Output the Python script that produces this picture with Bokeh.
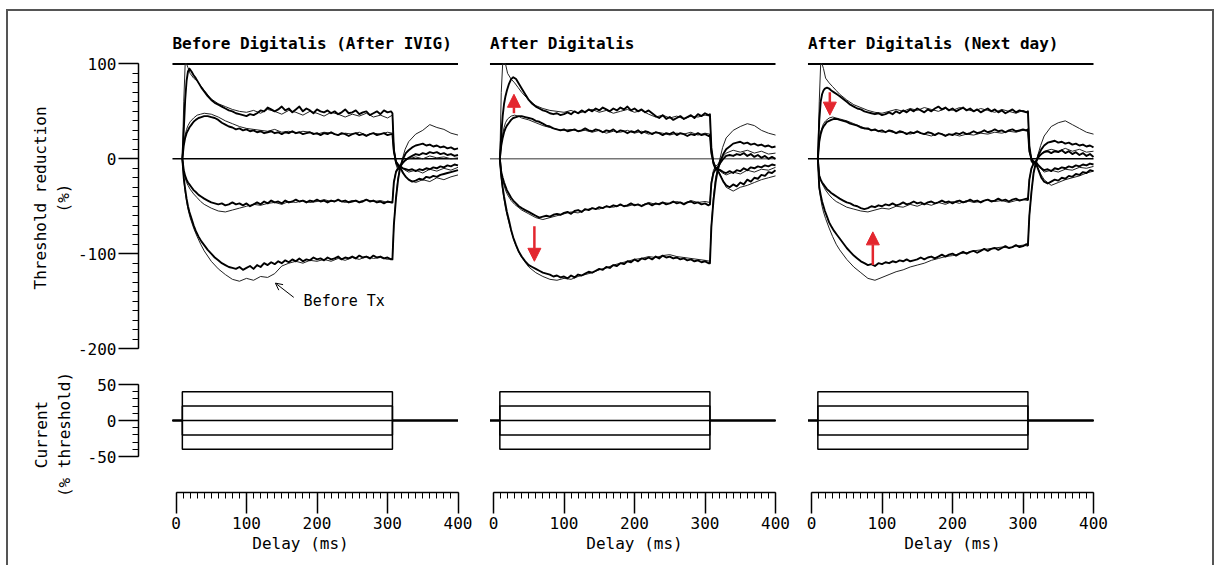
from bokeh.plotting import figure
from bokeh.layouts import column, row
from bokeh.models import Range1d, LinearAxis, FixedTicker, Label, Arrow, NormalHead, OpenHead
from bokeh.embed import file_html
from bokeh.resources import INLINE

# ---------------- texts ----------------
PANEL_TITLES = ["Before Digitalis (After IVIG)", "After Digitalis", "After Digitalis (Next day)"]
Y_TITLE_TOP = "Threshold reduction\n(%)"
Y_TITLE_BOTTOM = "Current\n(% threshold)"
X_TITLE = "Delay (ms)"
NOTE_TEXT = "Before Tx"

# ---------------- data ----------------
TIME = [9, 11, 13, 15, 17, 19, 22, 25, 28, 32, 36,
        40, 45, 50, 55, 60, 65, 70, 75, 80, 85,
        90, 95, 100, 105, 110, 115, 120, 125, 130, 135,
        140, 145, 150, 155, 160, 165, 170, 175, 180, 185,
        190, 195, 200, 205, 210, 215, 220, 225, 230, 235,
        240, 245, 250, 255, 260, 265, 270, 275, 280, 285,
        290, 295, 300, 305,
        307, 309, 312, 315, 318, 322, 326, 330, 335, 340, 345, 350, 355, 360, 365, 370, 375, 380, 385, 390, 395, 400]

TIME_THIN = [9, 11, 13, 15, 17, 20, 25, 30, 35, 40,
             50, 60, 70, 80, 90, 100, 110, 120, 130, 140,
             150, 160, 170, 180, 190, 200, 210, 220, 230, 240,
             250, 260, 270, 280, 290, 300, 307,
             309, 312, 315, 318, 325, 330, 340, 350, 360, 370, 380, 390, 400]

# Panel 1 (Before Digitalis), thick traces: +40, +20, -20, -40 % conditioning
P1_PLUS40 = [0, 30, 62, 82, 92, 95, 92, 88, 85, 80, 75,
             71, 66, 62, 59, 57, 55, 53, 51, 50, 48,
             47, 46, 45, 47, 46, 48, 51, 50, 54, 52,
             50, 52, 55, 51, 53, 49, 52, 55, 50, 53,
             51, 48, 52, 50, 49, 51, 48, 50, 47, 49,
             52, 48, 49, 51, 47, 49, 50, 46, 48, 50,
             47, 51, 49, 50,
             48, 10, -4, -8, -9, -15, -19, -22, -24, -23, -21, -22, -19, -20, -18, -19, -17, -16, -15, -14, -13, -12]
P1_PLUS20 = [0, 14, 22, 27, 30, 33, 36, 39, 41, 43, 44,
             45, 45, 44, 43, 41, 38, 36, 34, 33, 31,
             32, 30, 31, 29, 30, 28, 29, 27, 28, 29,
             27, 28, 26, 28, 27, 29, 27, 28, 26, 27,
             28, 26, 27, 25, 27, 26, 28, 26, 25, 27,
             26, 24, 26, 27, 25, 26, 24, 26, 27, 25,
             26, 27, 25, 26,
             26, 8, -3, -6, -8, -10, -11, -12, -11, -13, -11, -12, -10, -11, -9, -10, -8, -9, -7, -8, -6, -7]
P1_MINUS20 = [0, -12, -18, -22, -25, -27, -30, -33, -35, -38, -40,
              -42, -44, -46, -47, -48, -47, -49, -48, -46, -48,
              -47, -49, -47, -50, -48, -46, -48, -45, -47, -44,
              -46, -45, -47, -44, -46, -45, -43, -45, -44, -46,
              -44, -45, -43, -45, -44, -46, -44, -45, -43, -45,
              -44, -46, -45, -44, -46, -45, -43, -45, -44, -46,
              -45, -47, -45, -46,
              -46, -25, -14, -10, -8, -4, -1, 1, 3, 5, 4, 6, 5, 7, 6, 7, 5, 6, 4, 5, 3, 4]
P1_MINUS40 = [0, -20, -32, -42, -50, -56, -63, -70, -76, -82, -87,
              -91, -96, -100, -104, -107, -110, -112, -114, -115, -116,
              -114, -117, -115, -113, -116, -112, -114, -110, -112, -109,
              -111, -108, -110, -107, -109, -106, -108, -105, -108, -106,
              -107, -104, -106, -105, -107, -104, -106, -105, -103, -106,
              -104, -105, -103, -105, -102, -104, -103, -105, -102, -104,
              -103, -105, -104, -106,
              -106, -70, -42, -22, -9, 0, 6, 9, 12, 14, 15, 16, 14, 15, 13, 14, 12, 13, 11, 12, 10, 11]

# Panel 2 (After Digitalis)
P2_PLUS40 = [0, 25, 45, 58, 66, 72, 79, 84, 86, 84, 79,
             74, 68, 62, 58, 55, 53, 51, 50, 48, 47,
             48, 46, 47, 49, 47, 50, 48, 51, 49, 52,
             50, 53, 51, 54, 52, 50, 53, 51, 54, 52,
             55, 51, 53, 50, 52, 49, 51, 48, 45, 43,
             46, 42, 44, 41, 43, 45, 42, 44, 46, 43,
             47, 45, 48, 46,
             47, 12, -5, -11, -12, -18, -24, -28, -30, -27, -29, -25, -27, -22, -24, -20, -21, -17, -18, -14, -15, -12]
P2_PLUS20 = [0, 14, 22, 28, 32, 35, 38, 41, 43, 44, 45,
             45, 44, 43, 42, 40, 39, 37, 35, 34, 32,
             31, 30, 31, 29, 30, 31, 29, 30, 32, 30,
             29, 31, 30, 28, 30, 29, 31, 28, 30, 29,
             27, 29, 28, 30, 27, 29, 28, 26, 28, 27,
             25, 27, 26, 28, 25, 27, 26, 24, 26, 25,
             27, 25, 26, 24,
             25, 6, -4, -9, -11, -12, -14, -15, -13, -15, -12, -13, -10, -12, -9, -10, -8, -9, -7, -8, -6, -7]
P2_MINUS20 = [0, -14, -20, -25, -29, -33, -37, -41, -44, -47, -50,
              -52, -54, -56, -58, -60, -62, -61, -60, -61, -59,
              -58, -59, -57, -56, -58, -55, -54, -56, -53, -54,
              -52, -53, -51, -52, -50, -51, -49, -50, -48, -50,
              -49, -47, -49, -48, -50, -48, -47, -49, -47, -48,
              -46, -48, -47, -45, -47, -46, -48, -46, -45, -47,
              -46, -48, -47, -49,
              -48, -26, -15, -11, -9, -4, 0, 3, 4, 3, 5, 4, 6, 3, 5, 2, 4, 1, 3, 0, 2, 0]
P2_MINUS40 = [0, -18, -30, -40, -48, -56, -65, -75, -83, -91, -98,
              -103, -108, -112, -114, -116, -118, -120, -121, -122, -124,
              -123, -125, -124, -126, -123, -125, -122, -123, -121, -119,
              -120, -118, -116, -117, -114, -115, -112, -113, -110, -111,
              -108, -109, -106, -108, -105, -106, -104, -106, -103, -105,
              -102, -104, -103, -105, -104, -106, -105, -107, -106, -108,
              -107, -109, -108, -110,
              -110, -72, -44, -25, -12, -2, 5, 10, 13, 16, 17, 18, 16, 17, 15, 16, 14, 15, 13, 14, 12, 13]

# Panel 3 (After Digitalis, next day)
P3_PLUS40 = [0, 40, 60, 68, 72, 74, 75, 74, 72, 70, 68,
             66, 63, 60, 57, 55, 53, 52, 50, 49, 48,
             47, 48, 46, 47, 49, 47, 50, 48, 51, 49,
             52, 50, 53, 51, 49, 52, 50, 53, 55, 52,
             54, 51, 53, 50, 52, 54, 51, 53, 50, 52,
             49, 51, 53, 50, 52, 49, 51, 48, 50, 52,
             49, 51, 50, 49,
             50, 14, -2, -5, -4, -12, -20, -24, -26, -24, -22, -23, -20, -21, -18, -19, -16, -17, -14, -15, -12, -13]
P3_PLUS20 = [0, 18, 26, 31, 34, 36, 39, 40, 41, 42, 42,
             41, 40, 39, 37, 36, 35, 33, 32, 32, 30,
             31, 29, 30, 28, 30, 29, 27, 29, 28, 26,
             28, 27, 29, 27, 26, 28, 27, 25, 27, 26,
             24, 26, 25, 27, 26, 28, 26, 27, 29, 27,
             28, 30, 28, 29, 31, 29, 30, 28, 30, 31,
             29, 30, 31, 30,
             31, 8, 0, -3, -3, -7, -10, -12, -11, -13, -10, -11, -9, -10, -8, -9, -7, -8, -6, -7, -5, -6]
P3_MINUS20 = [0, -18, -22, -25, -27, -29, -32, -34, -36, -38, -40,
              -42, -44, -46, -47, -49, -50, -52, -53, -52, -50,
              -51, -49, -50, -48, -49, -47, -49, -48, -46, -48,
              -47, -45, -47, -46, -48, -46, -45, -47, -46, -44,
              -46, -45, -47, -45, -44, -46, -45, -43, -45, -44,
              -46, -44, -43, -45, -44, -42, -44, -43, -45, -43,
              -42, -44, -43, -42,
              -43, -22, -10, -5, -3, 2, 5, 7, 8, 6, 8, 7, 9, 6, 8, 5, 7, 4, 6, 3, 5, 2]
P3_MINUS40 = [0, -30, -38, -45, -50, -55, -61, -67, -71, -76, -80,
              -84, -89, -94, -98, -102, -105, -108, -110, -112, -111,
              -113, -110, -111, -109, -110, -108, -109, -107, -108, -106,
              -108, -107, -106, -104, -106, -104, -103, -105, -103, -101,
              -103, -101, -100, -102, -100, -98, -100, -98, -97, -99,
              -97, -95, -97, -95, -94, -96, -94, -92, -94, -93,
              -91, -93, -92, -90,
              -91, -60, -35, -15, -5, 4, 10, 14, 17, 18, 19, 17, 18, 16, 17, 15, 16, 14, 15, 13, 14, 12]

# thin (comparison) recordings
P1_THIN_PLUS40 = [0, 60, 100, 100, 96, 90, 85, 82, 77, 72,
                  63, 58, 55, 52, 50, 49, 51, 48, 52, 50,
                  47, 51, 49, 46, 50, 48, 45, 49, 47, 44,
                  47, 45, 48, 44, 46, 43, 46,
                  10, -6, -12, -9, -18, -22, -25, -22, -24, -20, -22, -19, -17]
P1_THIN_PLUS20 = [0, 16, 25, 31, 35, 39, 43, 46, 47, 48,
                  47, 44, 40, 37, 34, 32, 31, 30, 29, 31,
                  28, 29, 27, 29, 28, 26, 28, 27, 25, 27,
                  26, 28, 25, 27, 26, 28, 27,
                  8, -2, -6, -8, -12, -14, -12, -15, -11, -13, -10, -12, -9]
P1_THIN_MINUS20 = [0, -13, -20, -25, -28, -32, -37, -41, -45, -48,
                   -52, -55, -56, -54, -52, -50, -48, -49, -47, -46,
                   -48, -45, -46, -44, -46, -45, -43, -45, -44, -46,
                   -44, -45, -43, -45, -44, -46, -45,
                   -24, -13, -9, -7, -2, 0, 2, 0, 3, 1, 2, 0, 1]
P1_THIN_MINUS40 = [0, -22, -35, -45, -53, -62, -73, -82, -90, -97,
                   -108, -116, -122, -127, -129, -126, -128, -124, -125, -121,
                   -113, -110, -108, -110, -107, -108, -106, -108, -105, -107,
                   -104, -106, -103, -105, -104, -106, -105,
                   -70, -40, -20, -8, 10, 18, 26, 30, 36, 33, 31, 27, 25]
P2_THIN_PLUS40 = [0, 70, 100, 100, 100, 90, 84, 80, 75, 70,
                  62, 56, 53, 51, 50, 49, 51, 48, 50, 52,
                  49, 51, 48, 50, 52, 49, 51, 47, 44, 46,
                  43, 45, 42, 45, 44, 46, 45,
                  10, -4, -10, -12, -22, -30, -34, -30, -28, -25, -22, -20, -18]
P2_THIN_PLUS20 = [0, 16, 26, 33, 38, 42, 45, 46, 45, 43,
                  41, 38, 35, 33, 31, 30, 31, 29, 30, 28,
                  30, 27, 29, 28, 30, 27, 29, 26, 28, 27,
                  25, 27, 26, 28, 25, 27, 26,
                  7, -3, -8, -11, -15, -17, -14, -16, -12, -14, -11, -12, -9]
P2_THIN_MINUS20 = [0, -15, -22, -28, -33, -38, -44, -48, -51, -54,
                   -58, -62, -64, -62, -60, -58, -56, -57, -54, -52,
                   -53, -50, -51, -49, -50, -48, -49, -46, -48, -46,
                   -47, -45, -47, -44, -46, -45, -46,
                   -24, -12, -8, -6, 2, 6, 9, 7, 9, 6, 8, 5, 6]
P2_THIN_MINUS40 = [0, -20, -33, -43, -52, -62, -76, -88, -97, -104,
                   -114, -120, -124, -127, -128, -126, -127, -124, -122, -120,
                   -117, -115, -112, -110, -108, -106, -105, -103, -104, -102,
                   -101, -103, -104, -105, -106, -107, -108,
                   -70, -40, -20, -10, 12, 22, 30, 34, 37, 35, 30, 27, 25]
P3_THIN_PLUS40 = [0, 60, 100, 100, 95, 85, 80, 76, 72, 68,
                  62, 57, 54, 51, 49, 48, 50, 52, 50, 53,
                  51, 54, 52, 50, 53, 51, 54, 52, 50, 53,
                  51, 49, 52, 50, 48, 51, 49,
                  12, -3, -6, -5, -16, -22, -28, -25, -22, -20, -18, -15, -13]
P3_THIN_PLUS20 = [0, 20, 28, 33, 37, 40, 43, 44, 43, 42,
                  40, 37, 34, 31, 30, 28, 29, 27, 28, 26,
                  28, 26, 24, 27, 25, 26, 24, 26, 25, 27,
                  26, 28, 27, 29, 28, 30, 29,
                  8, 0, -3, -4, -10, -14, -12, -14, -11, -12, -9, -10, -8]
P3_THIN_MINUS20 = [0, -17, -22, -26, -29, -33, -38, -42, -45, -47,
                   -51, -53, -55, -56, -54, -52, -53, -50, -51, -48,
                   -50, -47, -49, -46, -48, -45, -47, -44, -46, -45,
                   -43, -45, -44, -46, -44, -43, -44,
                   -22, -10, -5, -3, 4, 8, 10, 8, 11, 8, 10, 7, 8]
P3_THIN_MINUS40 = [0, -32, -42, -50, -56, -63, -73, -82, -90, -96,
                   -106, -114, -120, -126, -128, -125, -122, -119, -117, -114,
                   -112, -110, -107, -105, -103, -102, -100, -99, -97, -96,
                   -95, -94, -93, -94, -92, -91, -92,
                   -60, -34, -15, -4, 14, 24, 34, 38, 40, 36, 32, 28, 26]

THICK = [[P1_PLUS40, P1_PLUS20, P1_MINUS20, P1_MINUS40],
         [P2_PLUS40, P2_PLUS20, P2_MINUS20, P2_MINUS40],
         [P3_PLUS40, P3_PLUS20, P3_MINUS20, P3_MINUS40]]
THIN = [[P1_THIN_PLUS40, P1_THIN_PLUS20, P1_THIN_MINUS20, P1_THIN_MINUS40],
        [P2_THIN_PLUS40, P2_THIN_PLUS20, P2_THIN_MINUS20, P2_THIN_MINUS40],
        [P3_THIN_PLUS40, P3_THIN_PLUS20, P3_THIN_MINUS20, P3_THIN_MINUS40]]

CURRENT_LEVELS = [40, 20, 0, -20, -40]
PULSE_ON = 9
PULSE_OFF = 307
TRACE_START = -5
TRACE_END = 400
REF_LEVEL = 100

NOTE_X, NOTE_Y = 181, -150
NOTE_ARROW_FROM = (167, -146)
NOTE_ARROW_TO = (141, -131)

RED_ARROW_PANEL = [1, 1, 2, 2]
RED_ARROW_T = [29, 58, 26, 87]
RED_ARROW_FROM = [48, -71, 70, -112]
RED_ARROW_TO = [68, -108, 46, -77]

X_TICKS = [0, 100, 200, 300, 400]
X_MID = [50, 150, 250, 350]
X_MINOR = list(range(0, 401, 10))
TR_TICKS = [-200, -100, 0, 100]
TR_MID = [-150, -50, 50]
TR_MINOR = list(range(-200, 101, 10))
CUR_TICKS = [-50, 0, 50]
CUR_MINOR = list(range(-50, 51, 10))

for grp, tgrid in ((THICK, TIME), (THIN, TIME_THIN)):
    for panel in grp:
        for tr in panel:
            assert len(tr) == len(tgrid), (len(tr), len(tgrid))

# ---------------- layout (page pixels) ----------------
FONT = "DejaVu Sans Mono"
RED = "#e3262e"
PX_PER_MS = 0.705
PX_PER_PCT = 0.949
PX_PER_CUR = 0.72
T0_PX = [175.5, 493.0, 811.0]
CANVAS_X = [(8, 480), (480, 800), (800, 1212)]
FRAME_X = [(138, 462), (486, 782), (804, 1100)]
TOP_CANVAS_Y, TOP_FRAME_Y, TOP_ZERO = (11, 370), (30, 365), 158.3
BOT_CANVAS_Y, BOT_FRAME_Y, BOT_ZERO = (370, 565), (376, 492), 420.0


def style_axis(ax, major_len, minor_len):
    ax.axis_line_color = "black"
    ax.axis_line_width = 1.5
    ax.major_tick_line_color = "black"
    ax.major_tick_line_width = 1.5
    ax.major_tick_in = 0
    ax.major_tick_out = major_len
    ax.minor_tick_line_color = "black"
    ax.minor_tick_line_width = 1
    ax.minor_tick_in = 0
    ax.minor_tick_out = minor_len
    ax.major_label_text_font = FONT
    ax.major_label_text_font_size = "16px"
    ax.major_label_text_color = "black"
    ax.axis_label_text_font = FONT
    ax.axis_label_text_font_size = "16px"
    ax.axis_label_text_font_style = "normal"
    ax.axis_label_text_color = "black"


def mid_axis(ticks, loc, bounds):
    # medium-length ticks only (drawn as minor ticks, so no labels exist)
    ax = LinearAxis(ticker=FixedTicker(ticks=[], minor_ticks=ticks), fixed_location=loc, bounds=bounds)
    ax.axis_line_color = None
    ax.major_tick_line_color = None
    ax.minor_tick_line_color = "black"
    ax.minor_tick_line_width = 1.5
    ax.minor_tick_in = 0
    ax.minor_tick_out = 13
    return ax


def make_fig(i, top):
    cx0, cx1 = CANVAS_X[i]
    fx0, fx1 = FRAME_X[i]
    if top:
        (cy0, cy1), (fy0, fy1), zero, ppu = TOP_CANVAS_Y, TOP_FRAME_Y, TOP_ZERO, PX_PER_PCT
    else:
        (cy0, cy1), (fy0, fy1), zero, ppu = BOT_CANVAS_Y, BOT_FRAME_Y, BOT_ZERO, PX_PER_CUR
    xr = Range1d((fx0 - T0_PX[i]) / PX_PER_MS, (fx1 - T0_PX[i]) / PX_PER_MS)
    yr = Range1d(-(fy1 - zero) / ppu, (zero - fy0) / ppu)
    p = figure(width=cx1 - cx0, height=cy1 - cy0, x_range=xr, y_range=yr,
               x_axis_type=None, y_axis_type=None,
               output_backend="svg", toolbar_location=None,
               min_border_left=fx0 - cx0, min_border_right=cx1 - fx1,
               min_border_top=fy0 - cy0, min_border_bottom=cy1 - fy1)
    p.outline_line_color = None
    p.background_fill_color = "white"
    p.border_fill_color = "white"
    return p


top_figs, bot_figs = [], []
for i in range(3):
    # ---- threshold panel ----
    p = make_fig(i, True)
    p.line([TRACE_START, TRACE_END], [REF_LEVEL, REF_LEVEL], line_color="black", line_width=2)
    p.line([TRACE_START, TRACE_END], [0, 0], line_color="#777777" if i == 1 else "black", line_width=1.4)
    for tr in THIN[i]:
        p.line(TIME_THIN, tr, line_color="#222222", line_width=1.0, line_join="round")
    for tr in THICK[i]:
        p.line(TIME, tr, line_color="black", line_width=1.9, line_join="round")
    p.add_layout(Label(x=TRACE_START, y=121.5, text=PANEL_TITLES[i], text_font=FONT,
                       text_font_size="16px", text_font_style="bold", text_color="black",
                       text_baseline="middle", text_align="left"))
    if i == 0:
        ax = LinearAxis(ticker=FixedTicker(ticks=TR_TICKS, minor_ticks=TR_MINOR),
                        bounds=(TR_TICKS[0], TR_TICKS[-1]), axis_label=Y_TITLE_TOP,
                        major_label_overrides={-200: "-200", -100: "-100"})
        style_axis(ax, 20, 6)
        ax.major_label_standoff = 2
        ax.axis_label_standoff = 2
        p.add_layout(ax, "left")
        p.add_layout(mid_axis(TR_MID, p.x_range.start, (TR_TICKS[0], TR_TICKS[-1])), "left")
        p.add_layout(Label(x=NOTE_X, y=NOTE_Y, text=NOTE_TEXT, text_font=FONT,
                           text_font_size="15px", text_color="black",
                           text_baseline="middle", text_align="left"))
        p.add_layout(Arrow(end=OpenHead(size=7, line_width=1, line_color="black"),
                           x_start=NOTE_ARROW_FROM[0], y_start=NOTE_ARROW_FROM[1],
                           x_end=NOTE_ARROW_TO[0], y_end=NOTE_ARROW_TO[1],
                           line_color="black", line_width=1))
    for k, pan in enumerate(RED_ARROW_PANEL):
        if pan == i:
            p.add_layout(Arrow(end=NormalHead(size=13, fill_color=RED, line_color=RED),
                               x_start=RED_ARROW_T[k], y_start=RED_ARROW_FROM[k],
                               x_end=RED_ARROW_T[k], y_end=RED_ARROW_TO[k],
                               line_color=RED, line_width=2.5))
    top_figs.append(p)

    # ---- current panel ----
    q = make_fig(i, False)
    for lvl in CURRENT_LEVELS:
        q.line([TRACE_START, PULSE_ON, PULSE_ON, PULSE_OFF, PULSE_OFF, TRACE_END],
               [0, 0, lvl, lvl, 0, 0], line_color="black", line_width=1.5)
    xa = LinearAxis(ticker=FixedTicker(ticks=X_TICKS, minor_ticks=X_MINOR),
                    bounds=(X_TICKS[0], X_TICKS[-1]), axis_label=X_TITLE)
    style_axis(xa, 21, 6)
    xa.major_label_standoff = 3
    xa.axis_label_standoff = 2
    q.add_layout(xa, "below")
    q.add_layout(mid_axis(X_MID, q.y_range.start, (X_TICKS[0], X_TICKS[-1])), "below")
    if i == 0:
        ya = LinearAxis(ticker=FixedTicker(ticks=CUR_TICKS, minor_ticks=CUR_MINOR),
                        bounds=(CUR_TICKS[0], CUR_TICKS[-1]), axis_label=Y_TITLE_BOTTOM,
                        major_label_overrides={-50: "-50"})
        style_axis(ya, 20, 6)
        ya.major_label_standoff = 2
        ya.axis_label_standoff = 11
        q.add_layout(ya, "left")
    bot_figs.append(q)

BORDER = "2px solid #555555"
layout = column(row(*top_figs, spacing=0), row(*bot_figs, spacing=0), spacing=0,
                margin=(9, 0, 0, 6),
                styles={"border-left": BORDER, "border-top": BORDER, "border-right": BORDER,
                        "box-sizing": "content-box"})

open("out.html", "w").write(file_html(layout, INLINE))
